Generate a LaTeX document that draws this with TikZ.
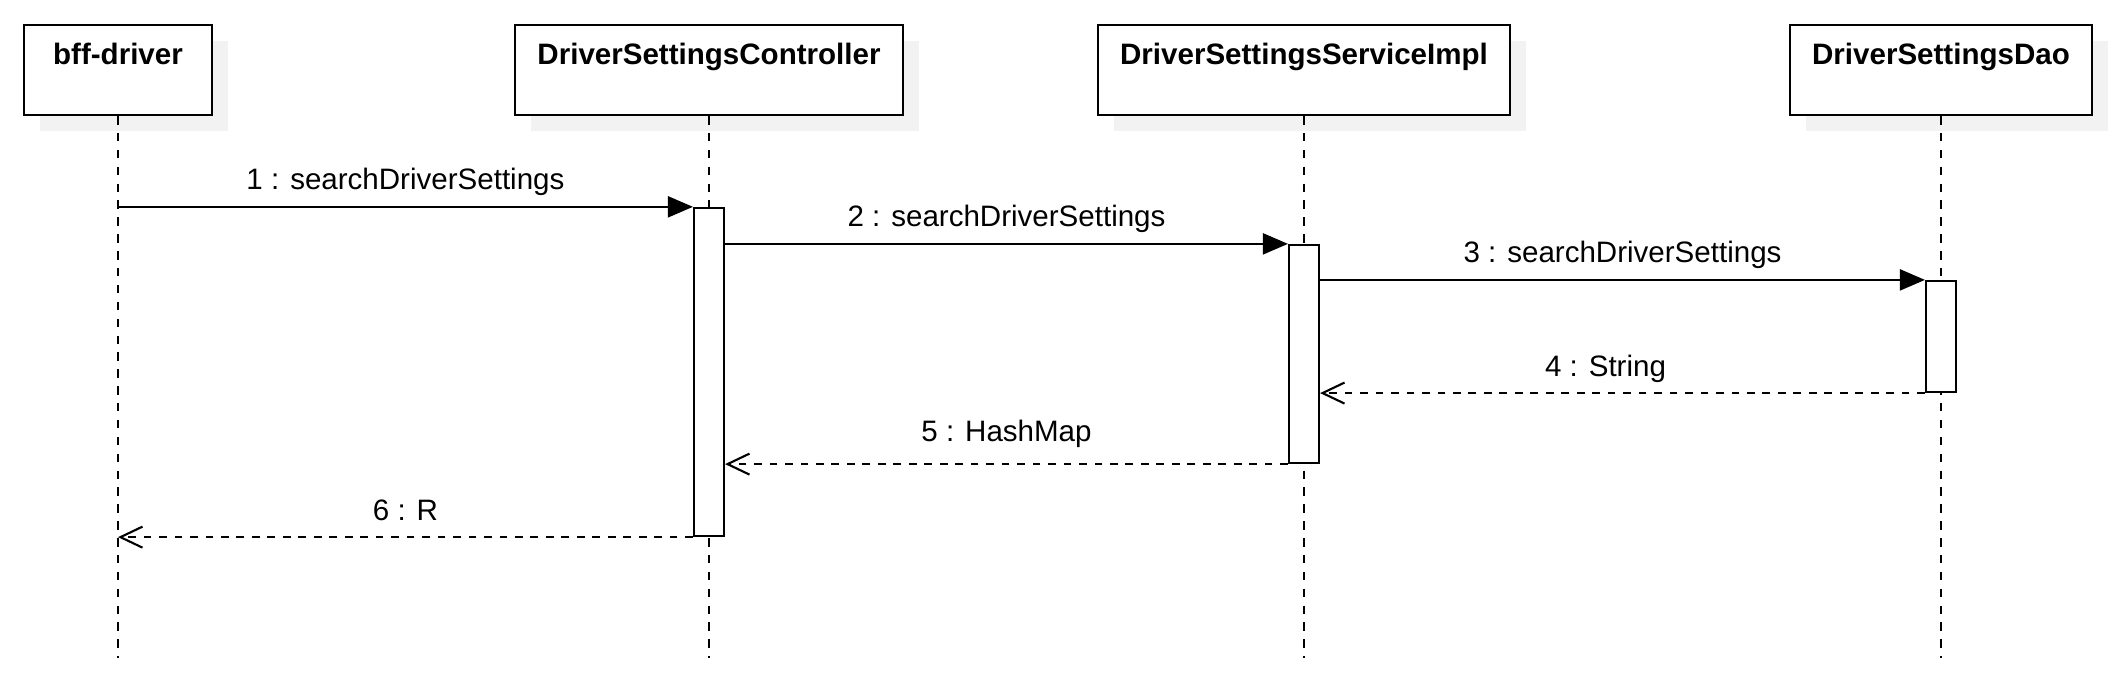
\documentclass[tikz,border=0pt]{standalone}
\usepackage{fontspec}
\setmainfont{Liberation Sans}
\usetikzlibrary{arrows.meta,positioning,shadows}
\definecolor{shadowgray}{RGB}{242,242,242}

\begin{document}
\begin{tikzpicture}[x=0.01cm, y=-0.01cm,
    font=\fontsize{8.4}{10}\selectfont,
    actor/.style={rectangle, draw, line width=0.6pt, fill=white, minimum height=0.9cm, inner sep=0pt,
                  drop shadow={shadow xshift=0.16cm, shadow yshift=-0.16cm, fill=shadowgray, opacity=1}},
    title/.style={anchor=north, font=\fontsize{8.4}{10}\selectfont\bfseries, yshift=-0.07cm},
    activation/.style={rectangle, draw, line width=0.6pt, fill=white, minimum width=0.3cm, inner sep=0pt},
    lifeline/.style={line width=0.6pt, dash pattern=on 2.4pt off 2.4pt},
    call/.style={-{Triangle[length=0.25cm, width=0.21cm]}, line width=0.6pt},
    reply/.style={-{Straight Barb[length=0.22cm, width=0.21cm]}, line width=0.6pt, dash pattern=on 2.2pt off 2.2pt},
    msg/.style={anchor=base, yshift=0.17cm}
]
\useasboundingbox (0,0) rectangle (2124,674);

% Participants
\node[actor, minimum width=1.88cm] (bff) at (118, 70) {};
\node[actor, minimum width=3.88cm] (ctrl) at (709, 70) {};
\node[actor, minimum width=4.12cm] (svc) at (1304, 70) {};
\node[actor, minimum width=3.02cm] (dao) at (1941, 70) {};

\node[title] (bfftitle) at (bff.north) {bff-driver};
\node[title] (ctrltitle) at (ctrl.north) {DriverSettingsController};
\node[title] (svctitle) at (svc.north) {DriverSettingsServiceImpl};
\node[title] (daotitle) at (dao.north) {DriverSettingsDao};

% Lifelines
\foreach \n in {bff, ctrl, svc, dao}
    \draw[lifeline] (\n.south) -- (\n.south |- 0,658);

% Activations
\node[activation, minimum height=3.28cm] (actctrl) at (709, 372) {};
\node[activation, minimum height=2.18cm] (actsvc) at (1304, 354) {};
\node[activation, minimum height=1.11cm] (actdao) at (1941, 336.5) {};

% Calls
\draw[call] (bff.south |- actctrl.north) -- (actctrl.north west) node[midway, msg] {1 : searchDriverSettings};
\draw[call] (actctrl.east |- actsvc.north) -- (actsvc.north west) node[midway, msg] {2 : searchDriverSettings};
\draw[call] (actsvc.east |- actdao.north) -- (actdao.north west) node[midway, msg] {3 : searchDriverSettings};

% Replies
\draw[reply] (actdao.south west) -- (actsvc.east |- actdao.south) node[midway, msg, xshift=-0.17cm] {4 : String};
\draw[reply] (actsvc.south west) -- (actctrl.east |- actsvc.south) node[midway, msg, yshift=0.06cm] {5 : HashMap};
\draw[reply] (actctrl.south west) -- (bff.south |- actctrl.south) node[midway, msg] {6 : R};

\end{tikzpicture}
\end{document}
